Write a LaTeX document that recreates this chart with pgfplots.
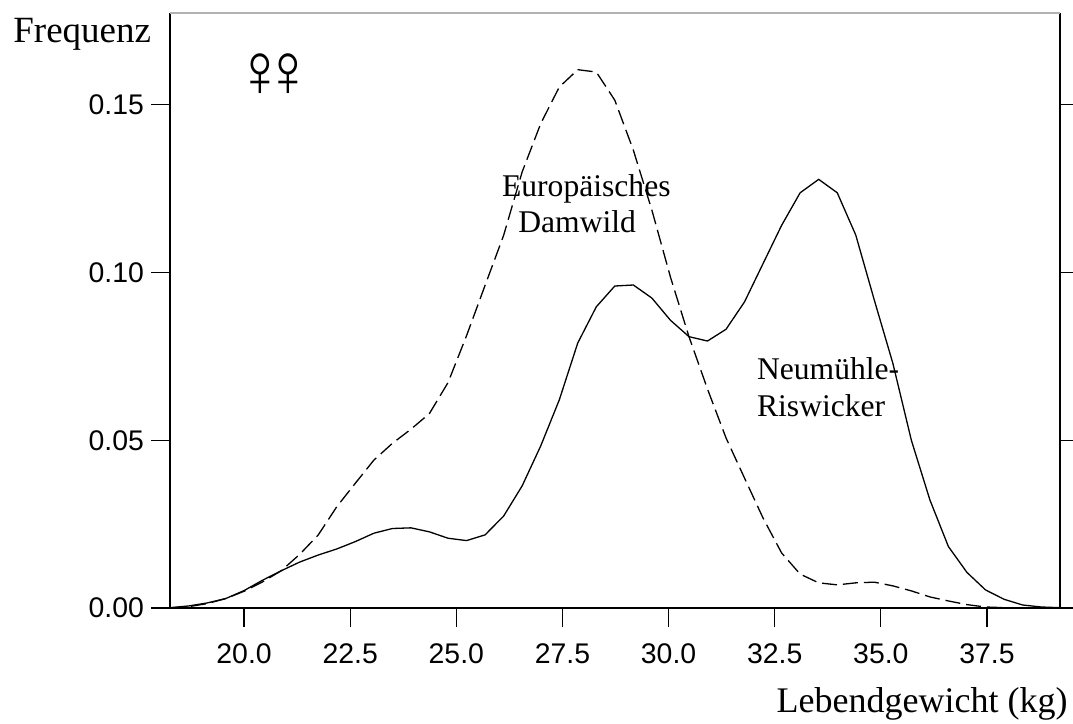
\documentclass[border=0pt]{standalone}
\usepackage{fontspec}
\setmainfont{Liberation Serif}
\newfontfamily\arialfont{Liberation Sans}
\usepackage{pgfplots}
\usepackage{pgfplotstable}
\pgfplotsset{compat=1.18}

\pgfplotstableread{
x y
18.255 0.0001
18.692 0.0006
19.128 0.0015
19.565 0.0028
20.001 0.0052
20.438 0.0083
20.875 0.0111
21.311 0.0137
21.748 0.0158
22.184 0.0176
22.621 0.0198
23.058 0.0223
23.494 0.0237
23.931 0.0239
24.367 0.0227
24.804 0.0208
25.241 0.0201
25.677 0.0218
26.114 0.0274
26.550 0.0364
26.987 0.0483
27.424 0.0620
27.860 0.0790
28.297 0.0898
28.733 0.0960
29.170 0.0963
29.607 0.0924
30.043 0.0858
30.480 0.0809
30.916 0.0796
31.353 0.0831
31.790 0.0913
32.226 0.1027
32.663 0.1141
33.099 0.1238
33.536 0.1278
33.973 0.1238
34.409 0.1112
34.846 0.0918
35.282 0.0730
35.719 0.0500
36.156 0.0322
36.592 0.0183
37.029 0.0106
37.465 0.0054
37.902 0.0026
38.339 0.0009
38.775 0.0003
39.212 0.0001
}\neumuehle

\pgfplotstableread{
x y
18.255 0.0000
18.692 0.0004
19.128 0.0013
19.565 0.0028
20.001 0.0050
20.438 0.0078
20.875 0.0111
21.311 0.0160
21.748 0.0218
22.184 0.0302
22.621 0.0372
23.058 0.0441
23.494 0.0491
23.931 0.0533
24.367 0.0580
24.804 0.0672
25.241 0.0812
25.677 0.0962
26.114 0.1111
26.550 0.1300
26.987 0.1444
27.424 0.1553
27.860 0.1605
28.297 0.1598
28.733 0.1514
29.170 0.1365
29.607 0.1186
30.043 0.0987
30.480 0.0809
30.916 0.0653
31.353 0.0507
31.790 0.0387
32.226 0.0268
32.663 0.0164
33.099 0.0101
33.536 0.0075
33.973 0.0069
34.409 0.0075
34.846 0.0077
35.282 0.0066
35.719 0.0051
36.156 0.0033
36.592 0.0021
37.029 0.0010
37.465 0.0003
37.902 0.0001
38.339 0.0000
38.775 0.0000
39.212 0.0000
}\damwild

\begin{document}
\begin{tikzpicture}
\path[use as bounding box] (-85pt,-58pt) rectangle (451.5pt,304pt);
\begin{axis}[
  at={(0,0)}, anchor=south west,
  scale only axis,
  width=445pt, height=297.5pt,
  xmin=18.255, xmax=39.22,
  ymin=0, ymax=0.1774,
  axis x line*=bottom,
  axis y line*=box,
  axis line style={line width=0.6pt, black},
  tick align=outside,
  xtick pos=bottom,
  ytick pos=both,
  major tick length=9.5pt,
  major tick style={line width=0.6pt, black},
  minor tick num=0,
  xtick={20,22.5,25,27.5,30,32.5,35,37.5},
  xticklabels={20.0,22.5,25.0,27.5,30.0,32.5,35.0,37.5},
  ytick={0,0.05,0.10,0.15},
  yticklabels={0.00,0.05,0.10,0.15},
  scaled ticks=false,
  tick label style={font=\arialfont\fontsize{14.2}{16}\selectfont},
  xticklabel style={yshift=-5pt},
  clip=true,
]
\addplot[black, line width=0.65pt, sharp plot, no markers] table[x=x, y=y] {\neumuehle};
\addplot[black, line width=0.65pt, sharp plot, no markers, dash pattern=on 7.5pt off 3pt] table[x=x, y=y] {\damwild};
\draw[black!30, line width=0.6pt] (rel axis cs:0,1) -- (rel axis cs:1,1);
\end{axis}
\node[anchor=base west, inner sep=0, font=\fontsize{18.5}{20}\selectfont] at (-78.5pt,282.5pt) {Frequenz};
\node[anchor=base east, inner sep=0, font=\fontsize{18}{20}\selectfont] at (449pt,-52.5pt) {Lebendgewicht (kg)};
\node[inner sep=0, xscale=0.87, font=\fontsize{38}{40}\selectfont] at (45pt,266.5pt) {♀};
\node[inner sep=0, xscale=0.87, font=\fontsize{38}{40}\selectfont] at (59pt,266.5pt) {♀};
\node[anchor=base west, inner sep=0, font=\fontsize{15.8}{18}\selectfont] at (165.85pt,205.65pt) {Europäisches};
\node[anchor=base west, inner sep=0, font=\fontsize{15.8}{18}\selectfont] at (174pt,187.5pt) {Damwild};
\node[anchor=base west, inner sep=0, font=\fontsize{15.8}{18}\selectfont] at (293.35pt,114pt) {Neumühle-};
\node[anchor=base west, inner sep=0, font=\fontsize{15.8}{18}\selectfont] at (293.35pt,95.5pt) {Riswicker};
\end{tikzpicture}
\end{document}
